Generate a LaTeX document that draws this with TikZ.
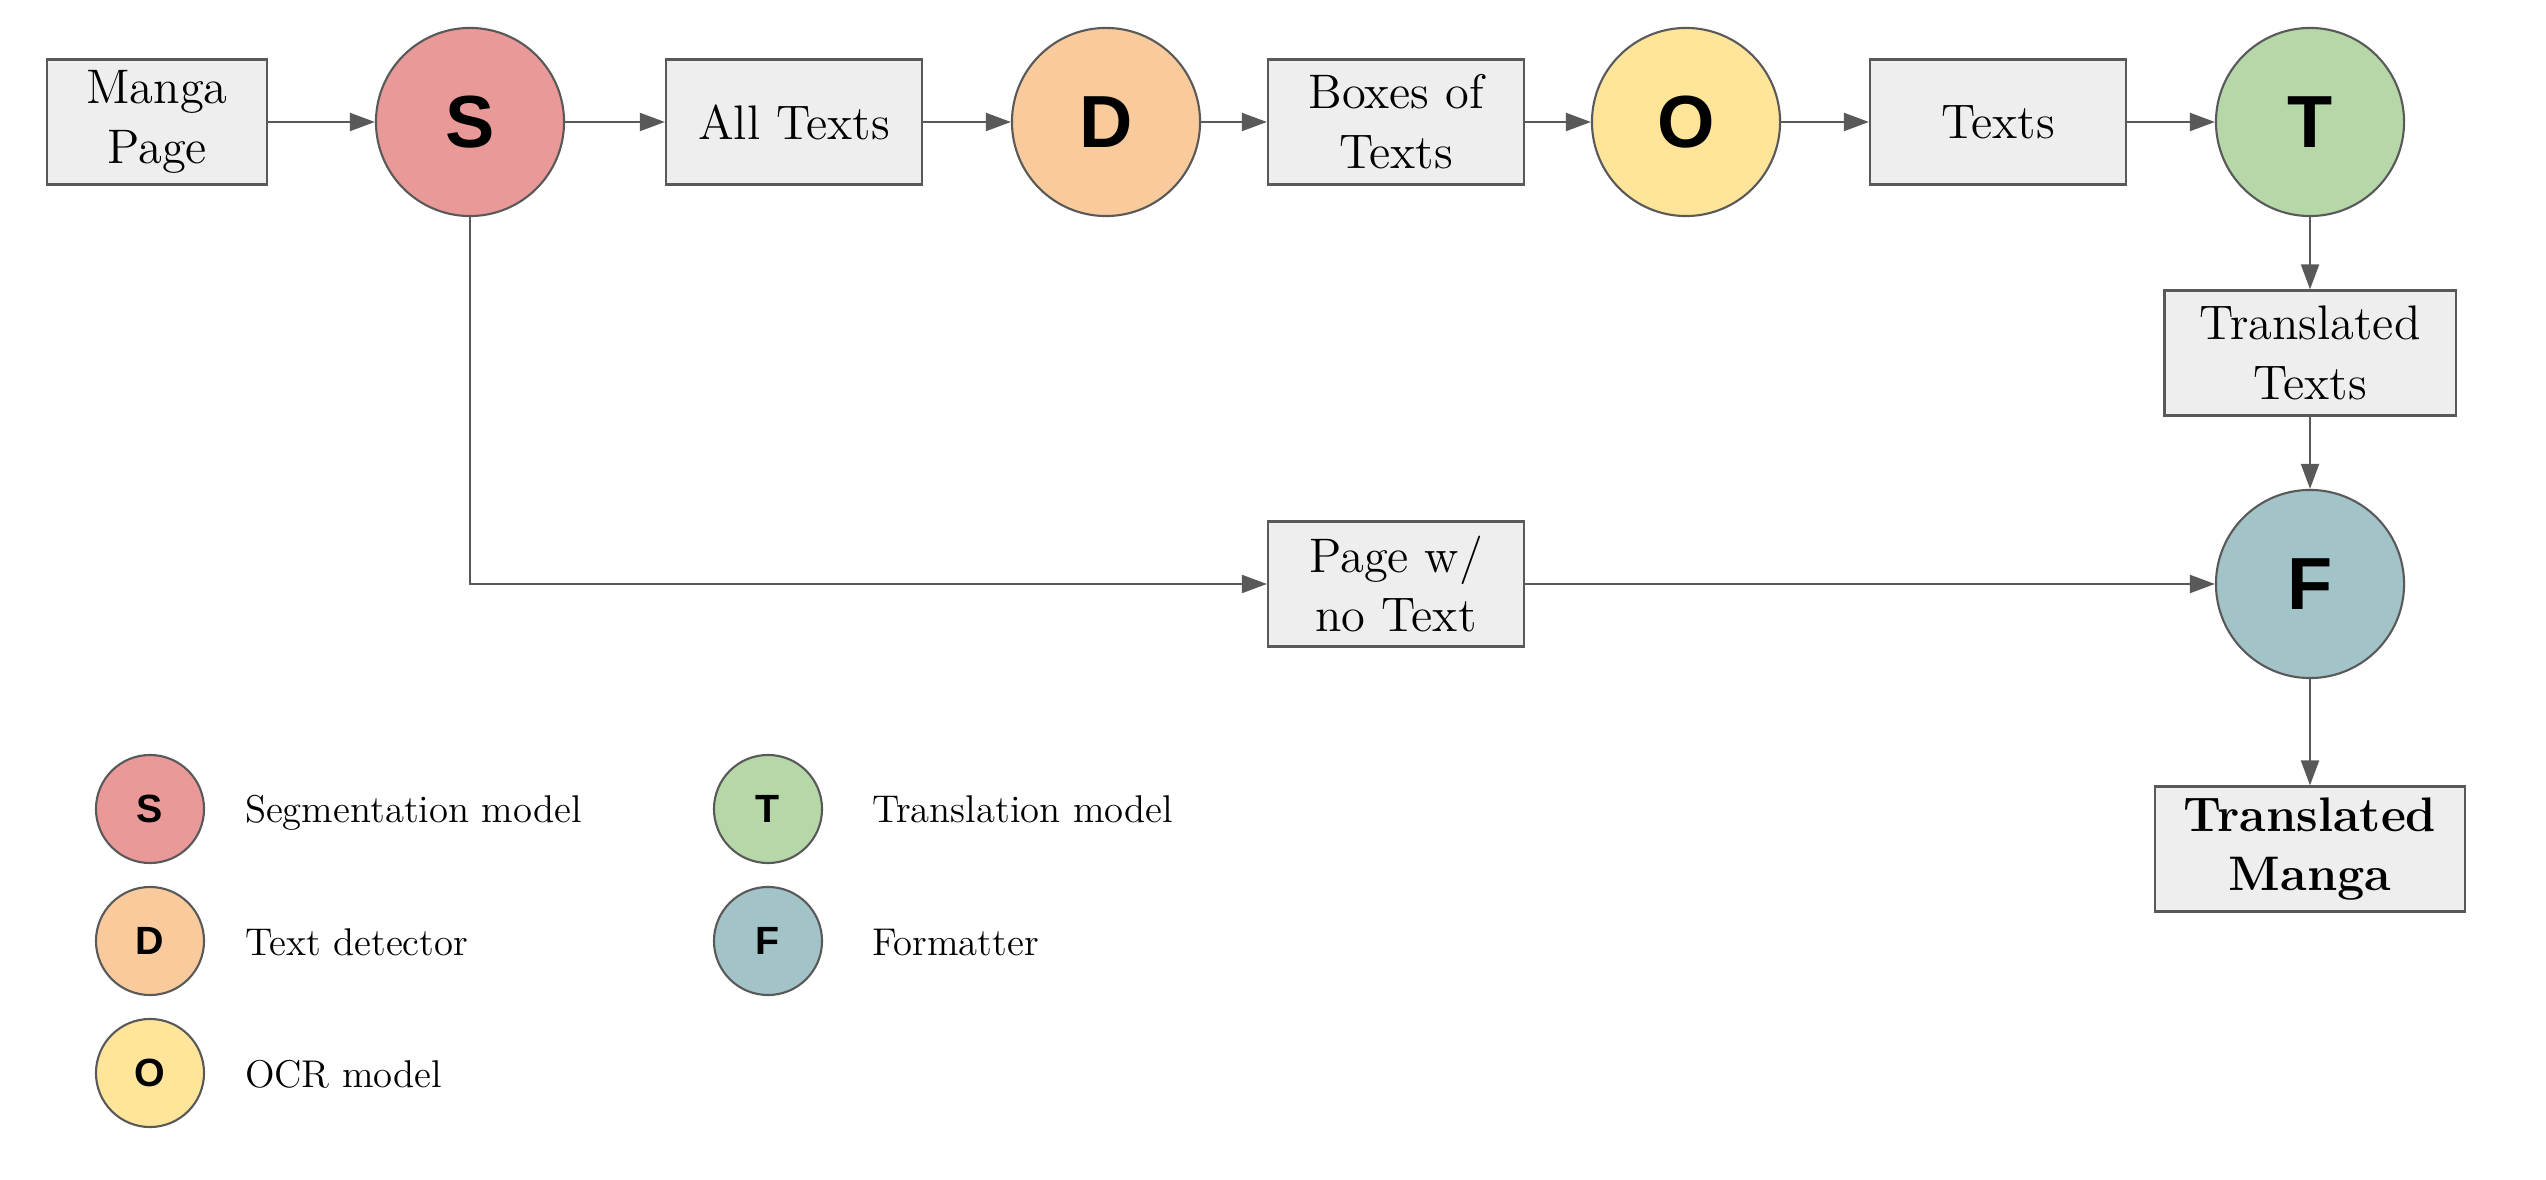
\documentclass[tikz,border=0pt]{standalone}
\usepackage{fontspec}
\newfontfamily\letterfont{Liberation Sans}
\usetikzlibrary{arrows.meta}

\definecolor{linegray}{HTML}{595959}
\definecolor{boxgray}{HTML}{EEEEEE}
\definecolor{segred}{HTML}{EA9999}
\definecolor{detorange}{HTML}{F9CB9C}
\definecolor{ocryellow}{HTML}{FFE599}
\definecolor{transgreen}{HTML}{B6D7A8}
\definecolor{formblue}{HTML}{A2C4C9}

\begin{document}
\begin{tikzpicture}[x=0.01cm,y=-0.01cm,>={Triangle[length=2.5mm,width=1.8mm]},line width=0.6pt,
		box/.style={draw=linegray, fill=boxgray, minimum width=2.56cm, minimum height=1.25cm, inner sep=0pt, align=center, font=\fontsize{13.8}{17}\selectfont},
		model/.style={circle, draw=linegray, minimum size=1.88cm, inner sep=0pt, font=\letterfont\bfseries\fontsize{21}{21}\selectfont},
		key/.style={circle, draw=linegray, minimum size=1.08cm, inner sep=0pt, font=\letterfont\bfseries\fontsize{11.2}{12}\selectfont},
		keytext/.style={anchor=base west, inner sep=0pt, font=\fontsize{11}{13}\selectfont}]
				\useasboundingbox (0,0) rectangle (2546,1180);

				% pipeline
				\node[box, minimum width=2.19cm]  (page)   at (157,122)  {Manga\\Page};
				\node[model, fill=segred]         (S)      at (470,122)  {S};
				\node[box]                        (all)    at (794,122)  {All Texts};
				\node[model, fill=detorange]      (D)      at (1106,122) {D};
				\node[box]                        (boxes)  at (1396,122) {Boxes of\\Texts};
				\node[model, fill=ocryellow]      (O)      at (1686,122) {O};
				\node[box]                        (texts)  at (1998,122) {Texts};
				\node[model, fill=transgreen]     (T)      at (2310,122) {T};
				\node[box, minimum width=2.91cm]  (trans)  at (2310,353) {Translated\\Texts};
				\node[model, fill=formblue]       (F)      at (2310,584) {F};
				\node[box]                        (clean)  at (1396,584) {Page w/\\no Text};
				\node[box, minimum width=3.1cm, font=\fontsize{13.8}{17}\selectfont\bfseries]
				                                  (manga)  at (2310,849) {Translated\\Manga};

				\path[->, color=linegray] (page)  edge (S)
								(S)     edge (all)
								(all)   edge (D)
								(D)     edge (boxes)
								(boxes) edge (O)
								(O)     edge (texts)
								(texts) edge (T)
								(T)     edge (trans)
								(trans) edge (F)
								(clean) edge (F)
								(F)     edge (manga);
				\draw[->, color=linegray] (S) |- (clean);

				% legend
				\node[key, fill=segred]     (keyS) at (150,809)  {S};
				\node[key, fill=detorange]  (keyD) at (150,941)  {D};
				\node[key, fill=ocryellow]  (keyO) at (150,1073) {O};
				\node[key, fill=transgreen] (keyT) at (768,809)  {T};
				\node[key, fill=formblue]   (keyF) at (768,941)  {F};
				\node[keytext] (labS) at (244,823)  {Segmentation model};
				\node[keytext] (labD) at (244,955)  {Text detector};
				\node[keytext] (labO) at (244,1087) {OCR model};
				\node[keytext] (labT) at (871,823)  {Translation model};
				\node[keytext] (labF) at (871,955)  {Formatter};
\end{tikzpicture}
\end{document}
